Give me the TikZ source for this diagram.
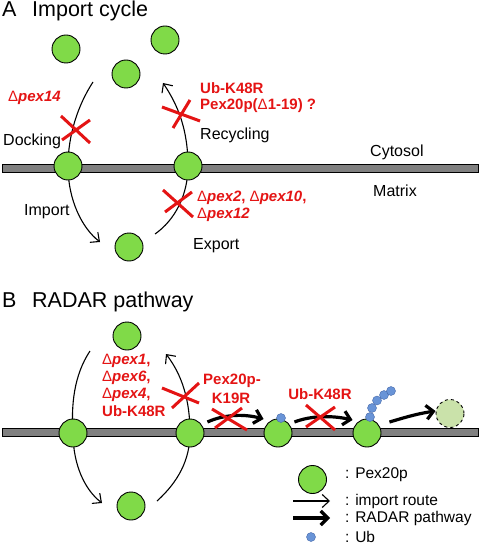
\documentclass[tikz,border=0pt]{standalone}
\usepackage{fontspec}
\setmainfont{Liberation Sans}
\usetikzlibrary{arrows.meta}
\definecolor{pexgreen}{RGB}{128,218,72}
\definecolor{xred}{RGB}{228,20,20}
\definecolor{memgray}{RGB}{128,128,128}
\definecolor{ubblue}{RGB}{105,148,215}
\definecolor{ubedge}{RGB}{70,105,170}
\definecolor{palegreen}{RGB}{202,226,170}
\newcommand{\dlt}{{\mdseries\upshape Δ}}
\begin{document}
\begin{tikzpicture}[x=1pt,y=-1pt,
  pex/.style={circle,draw=black,line width=0.9pt,fill=pexgreen,minimum size=28pt,inner sep=0pt},
  ub/.style={circle,draw=ubedge,line width=0.4pt,fill=ubblue,minimum size=9pt,inner sep=0pt},
  mem/.style={draw=black,line width=0.8pt,fill=memgray},
  thin arr/.style={draw=black,line width=1.1pt,-{Straight Barb[length=7pt,width=13pt]}},
  thick arr/.style={draw=black,line width=3.2pt,-{Straight Barb[length=7pt,width=14pt]}},
  cross/.style={draw=xred,line width=3pt},
  lbl/.style={anchor=west,inner sep=0pt,font=\fontsize{16}{19}\selectfont},
  rlbl/.style={anchor=west,inner sep=0pt,text=xred,font=\fontsize{15}{17}\selectfont\bfseries},
  ttl/.style={anchor=base west,inner sep=0pt,font=\fontsize{21.5}{25}\selectfont},
  leg/.style={anchor=west,inner sep=0pt,font=\fontsize{15.5}{18}\selectfont}]
\useasboundingbox (0,0) rectangle (480,545);

% ---------- Panel A ----------
\node[ttl] (tA) at (2,17) {A};
\node[ttl] (tAt) at (32,17) {Import cycle};

\path[mem] (2,164) rectangle (478,172);

\coordinate (a1) at (93,82);
\coordinate (a2) at (100,242);
\coordinate (a3) at (155,234);
\coordinate (a4) at (163,83);
\coordinate (am) at (68,166);
\coordinate (an) at (188,166);

\draw[line width=1.1pt] (a1) .. controls (78,105) and (68,135) .. (am);
\draw[thin arr] (am) .. controls (68,200) and (82,228) .. (a2);
\draw[line width=1.1pt] (a3) .. controls (175,220) and (188,195) .. (an);
\draw[thin arr] (an) .. controls (188,130) and (178,105) .. (a4);

\node[pex] (p1) at (66,49) {};
\node[pex] (p2) at (126,74) {};
\node[pex] (p3) at (165,40) {};
\node[pex] (pm1) at (am) {};
\node[pex] (pm2) at (an) {};
\node[pex] (pb) at (129,247) {};

\draw[cross] (61,116) -- (90,143);
\draw[cross] (90,120) -- (62,140);
\draw[cross] (162,107) -- (200,121);
\draw[cross] (190,100) -- (173,128);
\draw[cross] (163,190) -- (193,217);
\draw[cross] (165,212) -- (192,192);

\node[rlbl] (r1) at (8,98) {\dlt\textit{pex14}};
\node[rlbl] (r2) at (200,88) {Ub-K48R};
\node[rlbl] (r3) at (200,106) {Pex20p(\dlt1-19) ?};
\node[rlbl] (r4) at (197,198) {\dlt\textit{pex2}, \dlt\textit{pex10},};
\node[rlbl] (r5) at (197,215) {\dlt\textit{pex12}};

\node[lbl] (l1) at (3,141) {Docking};
\node[lbl] (l2) at (24,212) {Import};
\node[lbl] (l3) at (193,246) {Export};
\node[lbl] (l4) at (200,135) {Recycling};
\node[lbl] (l5) at (370,152) {Cytosol};
\node[lbl] (l6) at (373,191) {Matrix};

% ---------- Panel B ----------
\node[ttl] (tB) at (2,307) {B};
\node[ttl] (tBt) at (32,307) {RADAR pathway};

\path[mem] (2,428) rectangle (478,436);

\coordinate (b1) at (90,351);
\coordinate (b2) at (102,503);
\coordinate (b3) at (157,501);
\coordinate (b4) at (166,354);
\coordinate (bm) at (73,433);
\coordinate (bn) at (190,433);

\draw[line width=1.1pt] (b1) .. controls (74,375) and (71,405) .. (bm);
\draw[thin arr] (bm) .. controls (73,465) and (85,490) .. (b2);
\draw[line width=1.1pt] (b3) .. controls (178,482) and (190,460) .. (bn);
\draw[thin arr] (bn) .. controls (190,400) and (182,375) .. (b4);

\node[pex] (q1) at (127,336) {};
\node[pex] (qm1) at (bm) {};
\node[pex] (qm2) at (bn) {};
\node[pex] (qb) at (131,506) {};
\node[pex] (q3) at (278,433) {};
\node[pex] (q4) at (367,433) {};
\node[circle,draw=black,dashed,line width=0.9pt,fill=palegreen,minimum size=28pt,inner sep=0pt] (q5) at (450,413.5) {};

\node[ub] (u0) at (281,418) {};
\node[ub] (u1) at (370,417) {};
\node[ub] (u2) at (372,408) {};
\node[ub] (u3) at (377,400.5) {};
\node[ub] (u4) at (384,395) {};
\node[ub] (u5) at (391,391) {};

\draw[thick arr] (qm2.east) ++(3,-11) coordinate (k1) (k1) .. controls (225,414) and (245,414) .. (q3.west |- 0,419) coordinate (k2);
\draw[thick arr] (q3.east) ++(2,-11) coordinate (k3) (k3) .. controls (310,416) and (330,415) .. (q4.west |- 0,420) coordinate (k4);
\draw[thick arr] (q4.east) ++(8,-11) coordinate (k5) (k5) .. controls (400,419) and (415,414) .. (q5.west |- 0,411) coordinate (k6);

\draw[cross] (162,388) -- (199,403);
\draw[cross] (199,383) -- (172,408);
\draw[cross] (212,409) -- (247,430);
\draw[cross] (242,408) -- (215,428);
\draw[cross] (306,405) -- (335,430);
\draw[cross] (335,407) -- (306,427);

\node[rlbl] (s1) at (102,361) {\dlt\textit{pex1},};
\node[rlbl] (s2) at (102,378) {\dlt\textit{pex6},};
\node[rlbl] (s3) at (102,394.5) {\dlt\textit{pex4},};
\node[rlbl] (s4) at (102,411) {Ub-K48R};
\node[rlbl,anchor=center] (s5) at (232,381) {Pex20p-};
\node[rlbl,anchor=center] (s6) at (231,398) {K19R};
\node[rlbl,anchor=center] (s7) at (320,394) {Ub-K48R};

% ---------- Legend ----------
\node[pex] (lg1) at (312.5,479.5) {};
\coordinate (la1) at (293,501);
\coordinate (la2) at (330,501);
\coordinate (lb1) at (293,518);
\coordinate (lb2) at (330,518);
\draw[thin arr] (la1) -- (la2);
\draw[thick arr] (lb1) -- (lb2);
\node[ub] (lg4) at (311,537) {};
\node[leg] (e1) at (345,475) {: Pex20p};
\node[leg] (e2) at (345,501) {: import route};
\node[leg] (e3) at (345,518) {: RADAR pathway};
\node[leg] (e4) at (345,537) {: Ub};
\end{tikzpicture}
\end{document}
